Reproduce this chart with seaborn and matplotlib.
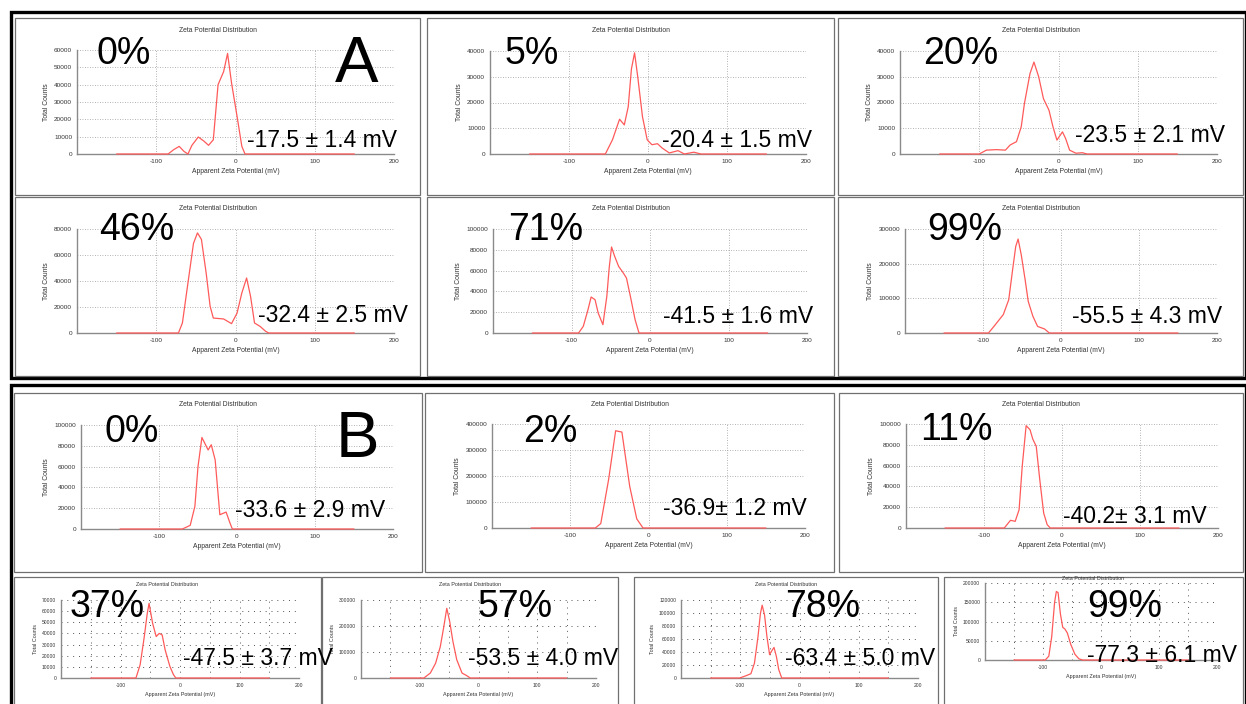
import numpy as np
import pandas as pd
import matplotlib
matplotlib.use("Agg")
import matplotlib.pyplot as plt
import seaborn as sns
from matplotlib.patches import Rectangle
from matplotlib.ticker import MultipleLocator, FixedLocator

# ---------------- data ----------------
a0_x = [-150, -85, -78, -71, -65, -60, -55, -47, -40, -34, -28, -22, -15, -10, -5, 2, 8, 12, 150]
a0_y = [0, 0, 2500, 4400, 1500, 0, 5000, 9800, 7500, 5000, 8200, 40000, 47500, 58000, 41000, 21600, 4400, 0, 0]

a5_x = [-150, -54, -45, -36, -30, -25, -21, -17, -13, -7, -1, 5, 12, 18, 27, 38, 46, 58, 67, 150]
a5_y = [0, 0, 5500, 13500, 11300, 18400, 33000, 39300, 30000, 14500, 5500, 3600, 4000, 2300, 400, 1300, 0, 700, 0, 0]

a20_x = [-150, -100, -91, -78, -67, -61, -53, -47, -43, -36, -31, -25, -19, -12, -7, -2, 5, 9, 14, 22, 30, 36, 150]
a20_y = [0, 0, 1500, 1700, 1500, 3500, 4800, 10600, 19600, 31200, 35700, 30000, 21500, 17000, 10600, 5400, 8600, 6000, 1500, 300, 500, 0, 0]

a46_x = [-150, -72, -67, -60, -53, -48, -43, -37, -32, -28, -15, -5, 2, 8, 14, 19, 24, 31, 38, 42, 150]
a46_y = [0, 0, 7700, 38500, 69000, 77000, 72000, 46000, 20500, 11500, 10800, 7200, 15400, 30800, 42300, 28200, 7700, 5100, 1300, 0, 0]

a71_x = [-150, -91, -85, -79, -75, -70, -66, -60, -55, -52, -49, -45, -40, -34, -30, -25, -19, -14, 150]
a71_y = [0, 0, 6400, 22400, 34600, 32000, 19200, 8000, 35300, 62500, 82700, 73700, 64100, 57700, 52900, 35300, 12800, 0, 0]

a99_x = [-150, -93, -86, -74, -67, -62, -58, -55, -51, -46, -42, -36, -30, -21, -15, 150]
a99_y = [0, 0, 19000, 53000, 96000, 183000, 250000, 271000, 226000, 154000, 91000, 48000, 19000, 11500, 0, 0]

b0_x = [-150, -70, -60, -54, -50, -45, -37, -33, -28, -22, -14, -9, -6, 150]
b0_y = [0, 0, 3500, 21700, 60000, 88000, 76000, 81000, 66500, 13700, 16300, 5800, 0, 0]

b2_x = [-150, -68, -61, -51, -42, -34, -24, -15, -7, 150]
b2_y = [0, 0, 17000, 186000, 374000, 369000, 160000, 35000, 0, 0]

b11_x = [-150, -74, -66, -60, -55, -51, -46, -41, -37.5, -33, -28.5, -23.5, -19, -15, 150]
b11_y = [0, 0, 7400, 6400, 17600, 59300, 98400, 94500, 85600, 78500, 46500, 14400, 3200, 0, 0]

b37_x = [-150, -74, -67, -60, -55, -52, -46, -40, -35, -30, -25, -17, -11, -7, 150]
b37_y = [0, 0, 11900, 37200, 58000, 67000, 49000, 37200, 40000, 38700, 25300, 10400, 3000, 0, 0]

b57_x = [-150, -93, -82, -73, -65, -59, -54, -49, -43.5, -37, -28, -20, -14, 150]
b57_y = [0, 0, 19000, 57000, 121000, 198000, 268000, 217000, 140000, 70000, 19000, 9000, 0, 0]

b78_x = [-150, -101, -90, -82, -76, -70, -66, -63, -59, -55, -50.5, -46, -43, -39, -35, -30, 150]
b78_y = [0, 0, 3600, 6600, 23000, 64000, 99000, 112000, 97000, 64000, 36000, 43000, 47000, 33000, 12800, 0, 0]

b99_x = [-150, -96, -90, -85, -80, -77, -74, -70, -66, -62, -58, -52, -45, -38, -32, 150]
b99_y = [0, 0, 10000, 60000, 150000, 178000, 175000, 120000, 85000, 80000, 70000, 40000, 15000, 3000, 0, 0]

percent_labels = ["0%", "5%", "20%", "46%", "71%", "99%", "0%", "2%", "11%", "37%", "57%", "78%", "99%"]
zeta_labels = ["-17.5 \u00b1 1.4 mV", "-20.4 \u00b1 1.5 mV", "-23.5 \u00b1 2.1 mV",
               "-32.4 \u00b1 2.5 mV", "-41.5 \u00b1 1.6 mV", "-55.5 \u00b1 4.3 mV",
               "-33.6 \u00b1 2.9 mV", "-36.9\u00b1 1.2 mV", "-40.2\u00b1 3.1 mV",
               "-47.5 \u00b1 3.7 mV", "-53.5 \u00b1 4.0 mV", "-63.4 \u00b1 5.0 mV", "-77.3 \u00b1 6.1 mV"]
y_max = [60000, 40000, 40000, 80000, 100000, 300000, 100000, 400000, 100000, 70000, 300000, 120000, 200000]
y_step = [10000, 10000, 10000, 20000, 20000, 100000, 20000, 100000, 20000, 10000, 100000, 20000, 50000]
x_ticks = [-100, 0, 100, 200]
title_text = "Zeta Potential Distribution"
xlabel_text = "Apparent Zeta Potential (mV)"
ylabel_text = "Total Counts"

series = [(a0_x, a0_y), (a5_x, a5_y), (a20_x, a20_y), (a46_x, a46_y), (a71_x, a71_y), (a99_x, a99_y),
          (b0_x, b0_y), (b2_x, b2_y), (b11_x, b11_y), (b37_x, b37_y), (b57_x, b57_y), (b78_x, b78_y), (b99_x, b99_y)]

# ---------------- layout (pixels) ----------------
W, H = 1246, 704
sns.set_theme(style="white")
plt.rcParams['font.family'] = ['Liberation Sans', 'DejaVu Sans']
plt.rcParams['axes.unicode_minus'] = False
fig = plt.figure(figsize=(W / 100, H / 100), dpi=100)

def fx(x):
    return x / W

def fy(y):
    return 1 - y / H

axes_px = [(77, 50, 394, 154), (490, 51, 806, 154), (900, 51, 1217, 154),
           (77, 229, 394, 333), (493, 229, 807, 333), (905, 229, 1217, 333),
           (81, 425, 393, 529), (492, 424, 805, 528), (906, 424, 1218, 528),
           (61, 600, 299, 678), (361, 600, 596, 678), (681, 600, 918, 678), (985, 583, 1217, 660)]
box_px = [(15, 18, 420, 195), (427, 18, 834, 195), (838, 18, 1243, 195),
          (15, 197, 420, 376), (427, 197, 834, 376), (838, 197, 1243, 376),
          (14, 393, 422, 572), (425, 393, 834, 572), (839, 393, 1243, 572),
          (14, 577, 321, 710), (322, 577, 618, 710), (634, 577, 938, 710), (944, 577, 1243, 710)]
title_y = [30, 30, 30, 209, 209, 209, 405, 404, 404, 585, 585, 585, 579]
pct_pos = [(97, 64), (505, 64), (923, 64), (99, 240), (508, 240), (927, 240),
           (105, 442), (523, 442), (920, 440), (70, 617), (478, 617), (785, 617), (1087, 617)]
mv_pos = [(247, 147), (662, 147), (1075, 142), (258, 322), (663, 323), (1072, 323),
          (235, 517), (663, 515), (1063, 523), (183, 665), (468, 665), (785, 665), (1087, 662)]

line_col = "#ff5a5a"
ax_col = "#8a8a8a"

for (l, t, r, b) in [(11, 12, 1246, 378), (11, 385, 1246, 712)]:
    fig.patches.append(Rectangle((fx(l), fy(b)), fx(r - l), (b - t) / H, transform=fig.transFigure,
                                 fill=False, edgecolor="black", linewidth=2.4))
for (l, t, r, b) in box_px:
    fig.patches.append(Rectangle((fx(l), fy(b)), fx(r - l), (b - t) / H, transform=fig.transFigure,
                                 fill=False, edgecolor="#707070", linewidth=0.9))

for i, ((xs, ys), (l, t, r, b)) in enumerate(zip(series, axes_px)):
    small = i >= 9
    ax = fig.add_axes([fx(l), fy(b), fx(r - l), (b - t) / H])
    ax.set_facecolor("none")
    df = pd.DataFrame({"mV": xs, "counts": ys})
    sns.lineplot(data=df, x="mV", y="counts", ax=ax, color=line_col, linewidth=0.9,
                 sort=False, estimator=None, clip_on=False, zorder=5)
    ax.set_xlim(-200, 200)
    ax.set_ylim(0, y_max[i])
    ax.xaxis.set_major_locator(FixedLocator(x_ticks))
    ax.xaxis.set_minor_locator(MultipleLocator(50))
    ax.yaxis.set_major_locator(MultipleLocator(y_step[i]))
    ax.yaxis.set_minor_locator(MultipleLocator(y_step[i] / 2))
    fs = 3.6 if small else 4.6
    ax.tick_params(axis="both", which="both", direction="inout", colors=ax_col,
                   labelcolor="#333333", labelsize=fs, width=0.6, pad=2)
    ax.tick_params(which="major", length=3)
    ax.tick_params(which="minor", length=2.5)
    ax.set_xticklabels([str(v) for v in x_ticks])
    ax.set_yticklabels([str(int(v)) for v in ax.get_yticks()])
    for s in ["top", "right"]:
        ax.spines[s].set_visible(False)
    for s in ["left", "bottom"]:
        ax.spines[s].set_color(ax_col)
        ax.spines[s].set_linewidth(1.0)
    if small:
        ax.grid(False)
        for xv in np.arange(-150, 201, 50):
            ax.axvline(xv, color="#555555", lw=0.7, ls=(0, (1, 5)), zorder=1)
        for yv in np.arange(y_step[i], y_max[i] + 1, y_step[i]):
            ax.axhline(yv, color="#555555", lw=0.7, ls=(0, (1, 5)), zorder=1)
    else:
        ax.grid(True, which="major", color="#9a9a9a", lw=0.6, ls=(0, (1, 2)))
    ax.set_xlabel(xlabel_text, fontsize=fs + 0.3, color="#333333", labelpad=3)
    ax.set_ylabel(ylabel_text, fontsize=fs + 0.3, color="#333333", labelpad=3)
    bl, bt, br, bb = box_px[i]
    fig.text(fx((bl + br) / 2), fy(title_y[i]), title_text,
             fontsize=fs + 0.3, color="#333333", ha="center", va="center")
    px, py = pct_pos[i]
    fig.text(fx(px), fy(py), percent_labels[i], fontsize=27, color="black",
             ha="left", va="baseline", zorder=10)
    mx, my = mv_pos[i]
    fig.text(fx(mx), fy(my), zeta_labels[i], fontsize=16.5, color="black",
             ha="left", va="baseline", zorder=10)

fig.text(fx(335), fy(82), "A", fontsize=47, color="black", ha="left", va="baseline", zorder=10)
fig.text(fx(336), fy(457), "B", fontsize=47, color="black", ha="left", va="baseline", zorder=10)

fig.savefig("out.png", dpi=100, facecolor="white")
